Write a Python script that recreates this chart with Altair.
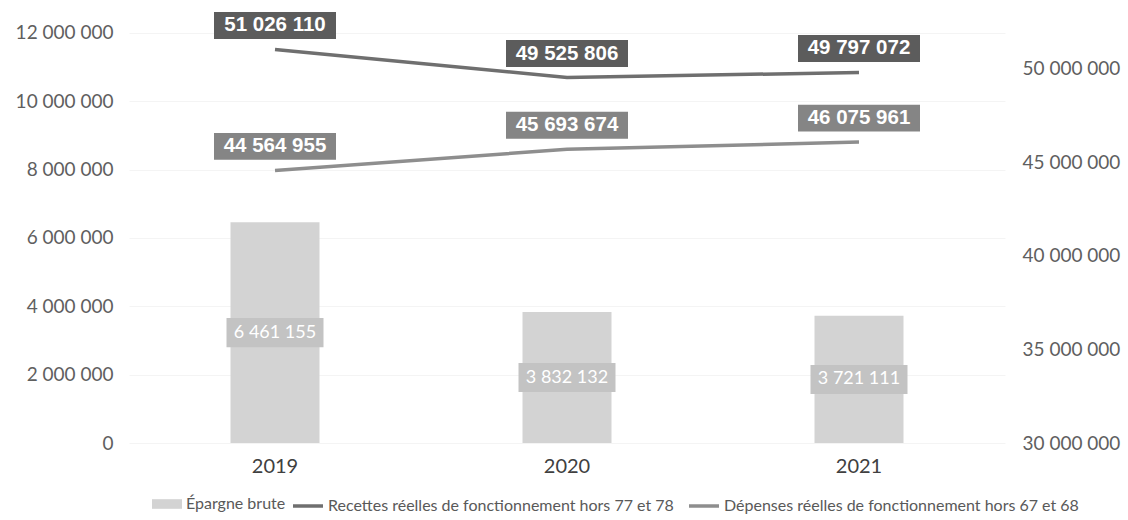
import altair as alt
import pandas as pd

years = ["2019", "2020", "2021"]
epargne_brute = [6461155, 3832132, 3721111]
recettes = [51026110, 49525806, 49797072]
depenses = [44564955, 45693674, 46075961]

serie_bar = "Épargne brute"
serie_rec = "Recettes réelles de fonctionnement hors 77 et 78"
serie_dep = "Dépenses réelles de fonctionnement hors 67 et 68"

left_ticks = [0, 2000000, 4000000, 6000000, 8000000, 10000000, 12000000]
right_ticks = [30000000, 35000000, 40000000, 45000000, 50000000]

bar_df = pd.DataFrame({"annee": years, "valeur": epargne_brute, "serie": [serie_bar] * 3})
line_df = pd.DataFrame({
    "annee": years * 2,
    "valeur": recettes + depenses,
    "serie": [serie_rec] * 3 + [serie_dep] * 3,
})

FMT = "replace(format(datum.valeur, ',d'), regexp(',', 'g'), ' ')"
AXFMT = "replace(format(datum.value, ',d'), regexp(',', 'g'), ' ')"

x_enc = alt.X(
    "annee:N",
    scale=alt.Scale(paddingInner=0, paddingOuter=0),
    axis=alt.Axis(title=None, labelAngle=0, domain=False, ticks=False,
                  labelFontSize=20, labelColor="#404040", labelPadding=13,
                  labelFont="Lato"),
)

left_scale = alt.Scale(domain=[0, 12380000], nice=False, zero=True)
left_axis = alt.Axis(values=left_ticks, title=None, orient="left", domain=False,
                     ticks=False, labelFontSize=19, labelColor="#5f5f5f",
                     labelPadding=16, labelFont="Lato", grid=True,
                     gridColor="#f4f4f4", labelExpr=AXFMT)

right_scale = alt.Scale(domain=[30000000, 52600000], nice=False, zero=False)
right_axis = alt.Axis(values=right_ticks, title=None, orient="right", domain=False,
                      ticks=False, labelFontSize=19, labelColor="#5f5f5f",
                      labelPadding=17, labelFont="Lato", grid=False,
                      labelExpr=AXFMT)

base_bar = alt.Chart(bar_df)

bars = base_bar.mark_bar(size=89).encode(
    x=x_enc,
    y=alt.Y("valeur:Q", scale=left_scale, axis=left_axis),
    fill=alt.Fill("serie:N",
                  scale=alt.Scale(domain=[serie_bar], range=["#d3d3d3"]),
                  legend=alt.Legend(title=None, orient="none", legendX=23, legendY=469,
                                    direction="horizontal",
                                    symbolType="M-1,-0.32H1V0.32H-1Z",
                                    symbolSize=900, symbolStrokeWidth=0,
                                    labelFont="Lato", labelFontSize=16,
                                    labelColor="#595959", labelOffset=4,
                                    labelLimit=600)),
)

bar_box = base_bar.transform_calculate(mid="datum.valeur / 2").mark_point(
    shape="M-1,-0.3H1V0.3H-1Z", filled=True, opacity=1, size=97 * 97,
    color="#c3c3c3",
).encode(
    x=x_enc,
    y=alt.Y("mid:Q", scale=left_scale, axis=left_axis),
)

bar_text = base_bar.transform_calculate(
    mid="datum.valeur / 2", label=FMT
).mark_text(color="white", fontSize=18, font="Lato", baseline="middle",
            align="center").encode(
    x=x_enc,
    y=alt.Y("mid:Q", scale=left_scale, axis=left_axis),
    text="label:N",
)

left = alt.layer(bars, bar_box, bar_text)

base_line = alt.Chart(line_df).transform_calculate(
    label=FMT,
    boxcol=f"datum.serie == '{serie_rec}' ? '#5c5c5c' : '#858585'",
)

lines = base_line.mark_line(strokeWidth=3.5).encode(
    x=x_enc,
    y=alt.Y("valeur:Q", scale=right_scale, axis=right_axis),
    stroke=alt.Stroke("serie:N",
                      scale=alt.Scale(domain=[serie_rec, serie_dep],
                                      range=["#6f6f6f", "#8e8e8e"]),
                      legend=alt.Legend(title=None, orient="none", legendX=162,
                                        legendY=469, direction="horizontal",
                                        symbolType="stroke", symbolSize=900,
                                        symbolStrokeWidth=3.5,
                                        labelFont="Lato", labelFontSize=16,
                                        labelColor="#595959", labelOffset=3,
                                        columnPadding=8, labelLimit=600)),
    detail="serie:N",
)

line_box = base_line.mark_point(
    shape="M-1,-0.22H1V0.22H-1Z", filled=True, opacity=1, size=122 * 122,
    yOffset=-24,
).encode(
    x=x_enc,
    y=alt.Y("valeur:Q", scale=right_scale, axis=right_axis),
    color=alt.Color("boxcol:N", scale=None),
)

line_text = base_line.mark_text(
    color="white", fontSize=20.5, font="Liberation Sans", fontWeight="bold",
    baseline="middle", align="center", yOffset=-24,
).encode(
    x=x_enc,
    y=alt.Y("valeur:Q", scale=right_scale, axis=right_axis),
    text="label:N",
)

right = alt.layer(lines, line_box, line_text)

chart = alt.layer(left, right).resolve_scale(
    y="independent"
).properties(
    width=876,
    height=423,
    autosize=alt.AutoSizeParams(type="none"),
    padding={"left": 129, "top": 20, "right": 123, "bottom": 77},
    background="white",
).configure_view(stroke=None)

chart.save("out.html", embed_options={"renderer": "svg", "actions": False})
